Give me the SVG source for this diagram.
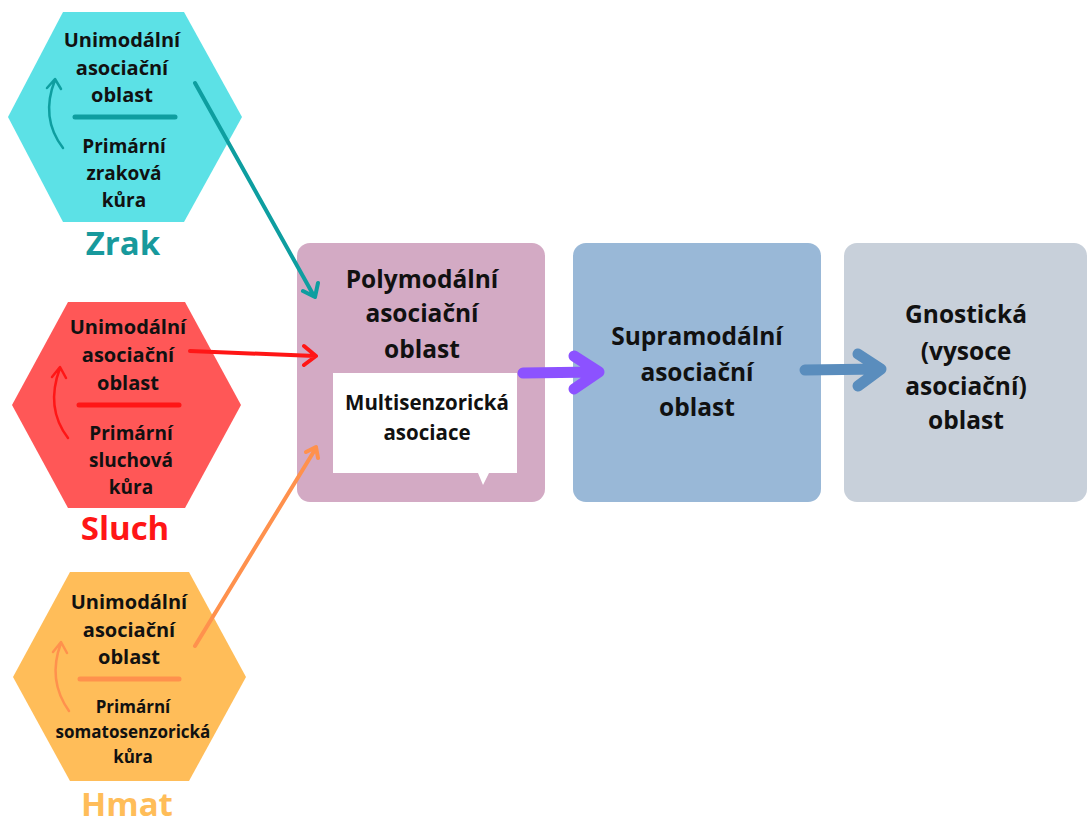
<svg xmlns="http://www.w3.org/2000/svg" width="1088" height="820" viewBox="0 0 1088 820">
<style>
text{font-family:"Open Sans","Noto Sans","Liberation Sans",sans-serif;font-weight:700;text-anchor:middle;fill:#111}
.t20{font-size:20px}
.t19{font-size:19px}
.t17{font-size:17px}
.t23{font-size:24.5px}
.tm{font-size:20.5px}
.lab{font-size:33px}
.ln{fill:none;stroke-linecap:round;stroke-linejoin:round}
</style>
<rect width="1088" height="820" fill="#fff"/>
<g id="zrak">
<polygon points="63,12 184,12 242,117 184,222 63,222 8,117" fill="#5ce1e6"/>
<text class="t20" x="122" y="47">Unimodální</text>
<text class="t20" x="122" y="75">asociační</text>
<text class="t20" x="122" y="102">oblast</text>
<line x1="75" y1="117" x2="175" y2="117" stroke="#0e9ea0" stroke-width="5" stroke-linecap="round"/>
<text class="t19" x="124" y="153">Primární</text>
<text class="t19" x="124" y="180">zraková</text>
<text class="t19" x="124" y="207">kůra</text>
<path class="ln" d="M63,148 Q40,118 55,80 M47,88 L55,79 L61,89" stroke="#0e9ea0" stroke-width="2.5"/>
<text class="lab" x="123" y="255" style="fill:#17999c">Zrak</text>
</g>
<g id="sluch">
<polygon points="68,302 185,302 241,405 185,508 68,508 12,405" fill="#ff5757"/>
<text class="t20" x="128" y="334">Unimodální</text>
<text class="t20" x="128" y="362">asociační</text>
<text class="t20" x="128" y="390">oblast</text>
<line x1="79" y1="405" x2="179" y2="405" stroke="#ff1616" stroke-width="5" stroke-linecap="round"/>
<text class="t19" x="131" y="440">Primární</text>
<text class="t19" x="131" y="467">sluchová</text>
<text class="t19" x="131" y="494">kůra</text>
<path class="ln" d="M68,438 Q45,408 60,368 M52,377 L60,367 L66,378" stroke="#ff1616" stroke-width="2.5"/>
<text class="lab" x="125" y="540" style="fill:#ff1616">Sluch</text>
</g>
<g id="hmat">
<polygon points="70,572 189,572 246,677 189,781 70,781 13,677" fill="#ffbd59"/>
<text class="t20" x="129" y="609">Unimodální</text>
<text class="t20" x="129" y="637">asociační</text>
<text class="t20" x="129" y="664">oblast</text>
<line x1="80" y1="679" x2="179" y2="679" stroke="#ff914d" stroke-width="5" stroke-linecap="round"/>
<text class="t17" x="133" y="713">Primární</text>
<text class="t17" x="133" y="738">somatosenzorická</text>
<text class="t17" x="133" y="763">kůra</text>
<path class="ln" d="M69,711 Q47,680 61,643 M53,652 L61,642 L67,653" stroke="#ff914d" stroke-width="2.5"/>
<text class="lab" x="127" y="816" style="fill:#ffbd59">Hmat</text>
</g>
<g id="polymodal">
<rect x="297" y="243" width="248" height="259" rx="13" fill="#d3aac4"/>
<text class="t23" x="422" y="288">Polymodální</text>
<text class="t23" x="422" y="322">asociační</text>
<text class="t23" x="422" y="358">oblast</text>
<path d="M333,373 H517 V473 H489 L483,485 L478,473 H333 Z" fill="#fff"/>
<text class="tm" x="427" y="410">Multisenzorická</text>
<text class="tm" x="427" y="440">asociace</text>
</g>
<g id="supramodal">
<rect x="573" y="243" width="248" height="259" rx="13" fill="#99b8d7"/>
<text class="t23" x="697" y="345">Supramodální</text>
<text class="t23" x="697" y="381">asociační</text>
<text class="t23" x="697" y="416">oblast</text>
</g>
<g id="gnosticka">
<rect x="844" y="243" width="243" height="259" rx="13" fill="#c8d0da"/>
<text class="t23" x="966" y="323">Gnostická</text>
<text class="t23" x="966" y="360">(vysoce</text>
<text class="t23" x="966" y="395">asociační)</text>
<text class="t23" x="966" y="429">oblast</text>
</g>
<g id="connectors">
<path class="ln" d="M195,83 L314,296 M303,291 L315,297 L318,283" stroke="#0e9ea0" stroke-width="4"/>
<path class="ln" d="M190,351 L315,356 M304,346 L316,356 L304,365" stroke="#ff1616" stroke-width="4"/>
<path class="ln" d="M195,646 L316,448 M306,452 L316,447 L318,458" stroke="#ff914d" stroke-width="4"/>
<path class="ln" d="M523,373 L597,372 M574,356 L599,372 L574,389" stroke="#8c52ff" stroke-width="11"/>
<path class="ln" d="M805,370 L880,369 M858,354 L881,369 L858,386" stroke="#5a8dbd" stroke-width="11"/>
</g>
</svg>
